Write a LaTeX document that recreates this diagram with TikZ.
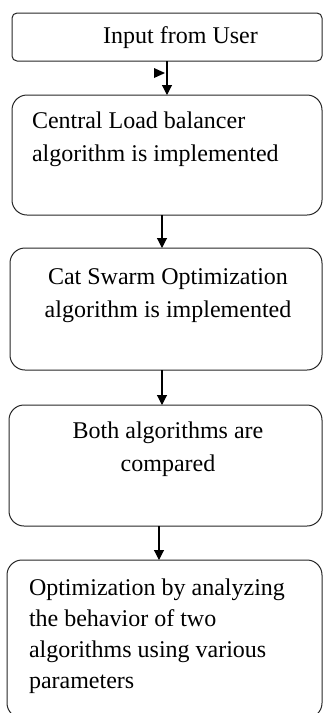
\documentclass[tikz,border=0pt]{standalone}
\usepackage{fontspec}
\setmainfont{Liberation Serif}
\usetikzlibrary{arrows.meta}
\tikzset{
  box/.style={draw=black!85, line width=1pt, anchor=north west, inner sep=0pt, outer sep=0pt},
  txt/.style={inner sep=0pt, outer sep=0pt, font=\fontsize{24}{33}\selectfont},
  arr/.style={draw=black, line width=1.1pt, -{Triangle[length=10pt,width=10pt]}},
}
\newcommand{\tstrut}{\rule{0pt}{20pt}}
\begin{document}
\begin{tikzpicture}[x=1pt,y=-1pt]
\useasboundingbox (0,0) rectangle (323,713);
% boxes
\node[box, rounded corners=5pt, minimum width=310pt, minimum height=48pt] (b1) at (12,13) {};
\node[box, rounded corners=15pt, minimum width=310pt, minimum height=120pt] (b2) at (12,95) {};
\node[box, rounded corners=15pt, minimum width=312pt, minimum height=122pt] (b3) at (10,248) {};
\node[box, rounded corners=15pt, minimum width=313pt, minimum height=121pt] (b4) at (9,405) {};
\node[box, rounded corners=15pt, minimum width=315pt, minimum height=158pt] (b5) at (7,560) {};
% texts
\node[txt, anchor=base] (t1) at (180.5,43) {Input from User};
\node[txt, anchor=north west, align=left] (t2) at (32,108) {\tstrut Central Load balancer\\algorithm is implemented};
\node[txt, anchor=north, align=center] (t3) at (168,264) {\tstrut Cat Swarm Optimization\\algorithm is implemented};
\node[txt, anchor=north, align=center] (t4) at (168,418) {\tstrut Both algorithms are\\compared};
\node[txt, anchor=north west, align=left, font=\fontsize{24}{31}\selectfont] (t5) at (29,575) {\tstrut Optimization by analyzing\\the behavior of two\\algorithms using various\\parameters};
% connectors
\draw[arr] (b1.south) -- (b1.south |- b2.north);
\draw[arr] ([xshift=-5pt]b2.south) -- ([xshift=-5pt]b2.south |- b3.north);
\draw[arr] ([xshift=-4pt]b3.south) -- ([xshift=-4pt]b3.south |- b4.north);
\draw[arr] ([xshift=-6.5pt]b4.south) -- ([xshift=-6.5pt]b4.south |- b5.north);
% small marker
\fill[black] (154,68) -- (154,78) -- (165,73) -- cycle;
\end{tikzpicture}
\end{document}
